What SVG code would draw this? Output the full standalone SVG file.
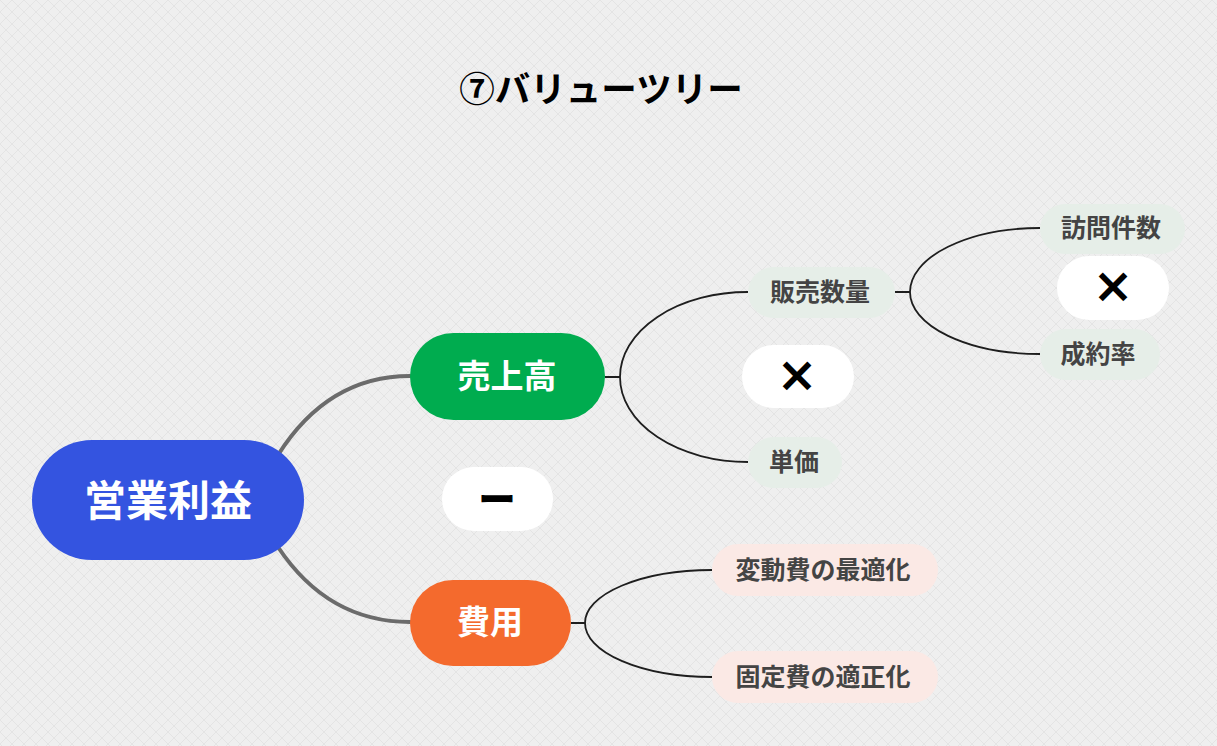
<svg xmlns="http://www.w3.org/2000/svg" width="1217" height="746" viewBox="0 0 1217 746">
<defs>
<pattern id="tex" width="12" height="12" patternUnits="userSpaceOnUse">
<rect width="12" height="12" fill="#efefef"/>
<path d="M0,12 L12,0 M0,0 L12,12" stroke="#e4e4e4" stroke-width="1"/>
</pattern>
<style>
.t{font-family:"Noto Sans CJK JP","Noto Sans",sans-serif;font-weight:bold;text-anchor:middle;dominant-baseline:central}
.w{fill:#ffffff}
.g{fill:#444444;font-size:25px}
.x{fill:#000;stroke:#000;stroke-width:1.6}
.main{fill:none;stroke:#6b6b6b;stroke-width:4;stroke-linecap:round}
.sub{fill:none;stroke:#1e1e1e;stroke-width:1.8}
.lg{fill:#e6eee8}
.pk{fill:#fbe9e5}
.op{fill:#ffffff}
</style>
</defs>
<rect width="1217" height="746" fill="url(#tex)"/>
<text class="t" x="601" y="86" font-size="35.5" fill="#000">⑦バリューツリー</text>

<g id="connectors">
<path class="main" d="M278,455 Q328,376 410,376"/>
<path class="main" d="M278,547 Q328,622 410,622"/>
<path class="sub" d="M605,377 H620 M620,377 A128,85 0 0 1 748,292 M620,377 A128,85 0 0 0 748,462"/>
<path class="sub" d="M895,292 H910 M910,292 A130,64 0 0 1 1040,228 M910,292 A130,62 0 0 0 1040,354"/>
<path class="sub" d="M571,623 H585 M585,623 A127,53 0 0 1 712,570 M585,623 A127,54 0 0 0 712,677"/>
</g>

<g id="root">
<rect x="32" y="440" width="272" height="120" rx="60" fill="#3454e0"/>
<text class="t w" x="168" y="497" font-size="42">営業利益</text>
</g>
<g id="sales">
<rect x="410" y="333" width="195" height="87" rx="43.5" fill="#00ac4f"/>
<text class="t w" x="507" y="374" font-size="33">売上高</text>
</g>
<g id="cost">
<rect x="410" y="580" width="161" height="86" rx="43" fill="#f46a2d"/>
<text class="t w" x="490" y="620" font-size="33">費用</text>
</g>
<g id="minus">
<rect x="442" y="467" width="111" height="64" rx="32" class="op"/>
<text class="t x" x="497" y="497" font-size="36">ー</text>
</g>
<g id="qty">
<rect x="748" y="267" width="147" height="51" rx="25.5" class="lg"/>
<text class="t g" x="820" y="290">販売数量</text>
</g>
<g id="times1">
<rect x="742" y="345" width="112" height="63" rx="31.5" class="op"/>
<text class="t x" x="797" y="374" font-size="40">×</text>
</g>
<g id="price">
<rect x="748" y="437" width="94" height="51" rx="25.5" class="lg"/>
<text class="t g" x="794" y="460">単価</text>
</g>
<g id="visits">
<rect x="1040" y="204" width="145" height="50" rx="25" class="lg"/>
<text class="t g" x="1111" y="226">訪問件数</text>
</g>
<g id="times2">
<rect x="1057" y="256" width="112" height="64" rx="32" class="op"/>
<text class="t x" x="1113" y="285" font-size="40">×</text>
</g>
<g id="rate">
<rect x="1040" y="329" width="120" height="51" rx="25.5" class="lg"/>
<text class="t g" x="1098" y="352">成約率</text>
</g>
<g id="variable">
<rect x="712" y="544" width="226" height="52" rx="26" class="pk"/>
<text class="t g" x="823" y="568">変動費の最適化</text>
</g>
<g id="fixed">
<rect x="712" y="651" width="226" height="52" rx="26" class="pk"/>
<text class="t g" x="823" y="675">固定費の適正化</text>
</g>
</svg>
